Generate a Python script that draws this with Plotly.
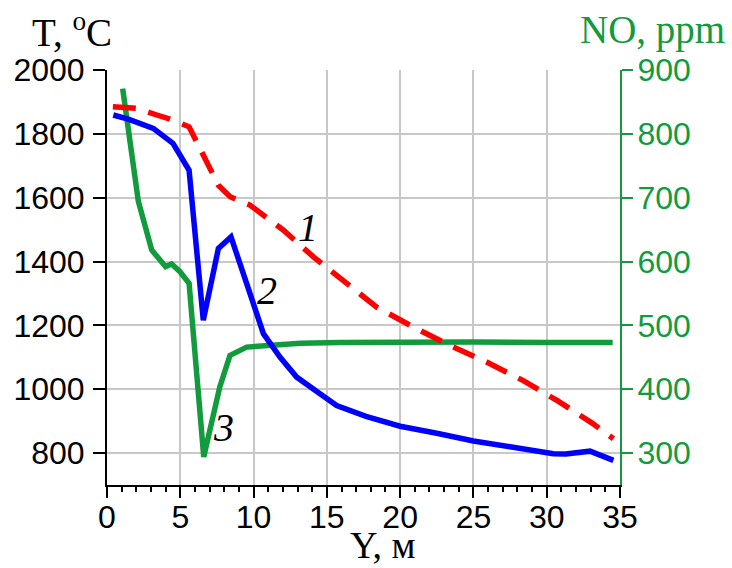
import plotly.graph_objects as go

# Curve 1: temperature (red dashed), T, °C
x1 = [0.4, 2.0, 3.4, 4.5, 5.6, 6.34, 6.8, 7.6, 8.4, 9.75, 12.04, 14.1, 16.1, 18.4, 20.9, 23.4, 25.9, 28.4, 30.7, 33.1, 34.55]
t1 = [1885, 1880, 1859, 1843, 1822, 1754, 1707, 1639, 1603, 1577, 1498, 1414, 1341, 1257, 1195, 1137, 1085, 1027, 965, 894, 845]

# Curve 2: temperature (blue), T, °C
x2 = [0.43, 1.5, 3.16, 4.5, 5.6, 6.57, 7.6, 8.46, 9.53, 10.67, 11.8, 12.94, 14.53, 15.67, 17.67, 20.0, 22.5, 25.0, 27.5, 30.45, 31.3, 32.95, 34.55]
t2 = [1859, 1845, 1817, 1770, 1686, 1216, 1441, 1477, 1331, 1174, 1101, 1038, 986, 949, 915, 884, 862, 838, 820, 798, 797, 806, 777]

# Curve 3: NO concentration (green), ppm
x3 = [1.07, 2.14, 3.05, 4.0, 4.41, 4.98, 5.6, 6.6, 7.7, 8.39, 9.53, 11.35, 13.2, 15.9, 20.0, 25.0, 30.0, 34.5]
no3 = [871, 694, 618, 592, 596, 584, 566, 294, 404, 453, 466, 469, 472, 473, 474, 474, 473, 473]

t_ticks = [800, 1000, 1200, 1400, 1600, 1800, 2000]
no_ticks = [300, 400, 500, 600, 700, 800, 900]
x_ticks = [0, 5, 10, 15, 20, 25, 30, 35]

GREEN = "#129b3c"
SANS = "Liberation Sans, Arial, sans-serif"
SERIF = "Liberation Serif, Times New Roman, serif"
TICK = 32

fig = go.Figure()
fig.add_trace(go.Scatter(x=x3, y=no3, mode="lines", yaxis="y",
                         line=dict(color=GREEN, width=5.5), showlegend=False))
fig.add_trace(go.Scatter(x=x1, y=t1, mode="lines", yaxis="y2",
                         line=dict(color="#ff0000", width=5.5, dash="23px,13px"), showlegend=False))
fig.add_trace(go.Scatter(x=x2, y=t2, mode="lines", yaxis="y2",
                         line=dict(color="#0000ff", width=5.5), showlegend=False))

fig.update_layout(
    template="none",
    width=732, height=568,
    margin=dict(l=107, r=112, t=70, b=83),
    paper_bgcolor="white", plot_bgcolor="white",
    xaxis=dict(range=[0, 35], tickvals=x_ticks, ticks="outside", ticklen=11, tickwidth=2,
               tickcolor="black", showline=True, linecolor="black", linewidth=2, automargin=False,
               showgrid=True, gridcolor="#c8c8c8", gridwidth=1.5, zeroline=False,
               tickfont=dict(family=SANS, size=TICK, color="black"), ticklabelstandoff=-8,
               minor=dict(dtick=1, ticks="outside", ticklen=5, tickwidth=2, tickcolor="black", showgrid=False)),
    yaxis=dict(range=[250, 900], tickvals=no_ticks, side="right", ticks="outside", ticklen=11,
               tickwidth=2, tickcolor=GREEN, showline=True, linecolor=GREEN, linewidth=2, automargin=False,
               showgrid=True, gridcolor="#c8c8c8", gridwidth=1.5, zeroline=False,
               tickfont=dict(family=SANS, size=TICK, color=GREEN), ticklabelstandoff=-2),
    yaxis2=dict(range=[700, 2000], tickvals=t_ticks, side="left", overlaying="y", ticks="outside",
                ticklen=12, tickwidth=2, tickcolor="black", showline=True, linecolor="black",
                linewidth=2, showgrid=False, zeroline=False, automargin=False,
                tickfont=dict(family=SANS, size=TICK, color="black"), ticklabelstandoff=2),
)

annotations = [
    dict(text="T, <sup>o</sup>C", xref="paper", yref="paper", x=(72 - 107) / 513, y=(485 - 30) / 415,
         font=dict(family=SERIF, size=39, color="black"), yanchor="middle"),
    dict(text="NO, ppm", xref="paper", yref="paper", x=(652 - 107) / 513, y=(485 - 30) / 415,
         font=dict(family=SERIF, size=39, color=GREEN), yanchor="middle"),
    dict(text="Y, м", xref="paper", yref="paper", x=(383 - 107) / 513, y=(485 - 568) / 415,
         font=dict(family=SERIF, size=38, color="black"), yanchor="bottom"),
    dict(text="<i>1</i>", xref="x", yref="y2", x=13.7, y=1507,
         font=dict(family=SERIF, size=40, color="black"), yanchor="middle"),
    dict(text="<i>2</i>", xref="x", yref="y2", x=10.9, y=1310,
         font=dict(family=SERIF, size=40, color="black"), yanchor="middle"),
    dict(text="<i>3</i>", xref="x", yref="y2", x=7.98, y=880,
         font=dict(family=SERIF, size=40, color="black"), yanchor="middle"),
]
for a in annotations:
    a.update(showarrow=False, xanchor="center")
fig.update_layout(annotations=annotations)

fig.write_html("out.html")
